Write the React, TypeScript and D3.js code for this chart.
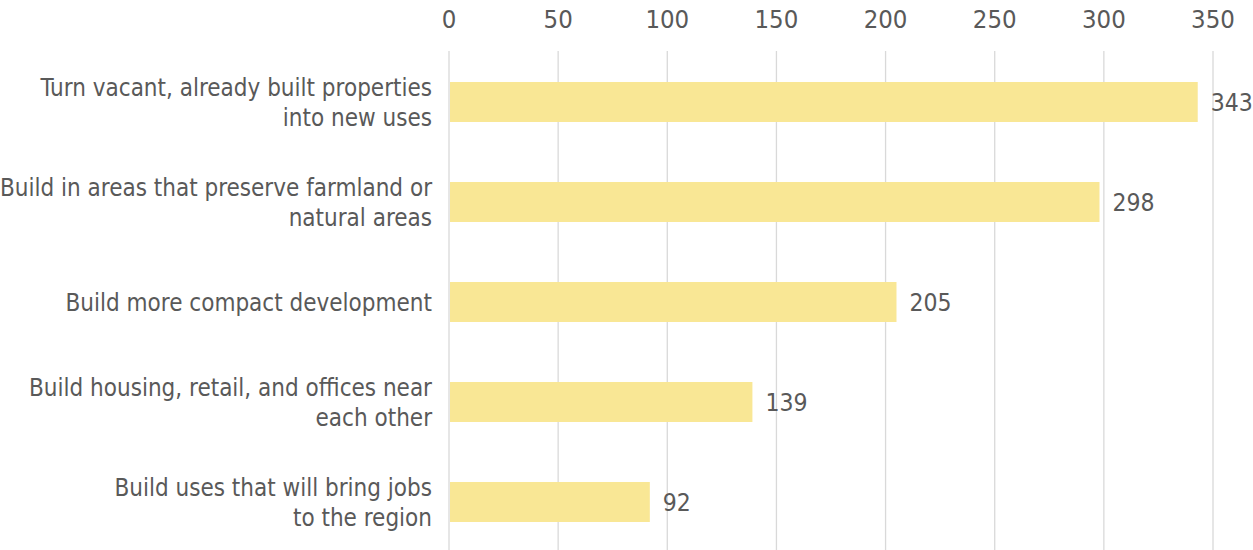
import React from "react";
import * as d3 from "d3";

const categories: string[][] = [
  ["Turn vacant, already built properties", "into new uses"],
  ["Build in areas that preserve farmland or", "natural areas"],
  ["Build more compact development"],
  ["Build housing, retail, and offices near", "each other"],
  ["Build uses that will bring jobs", "to the region"],
];
const values: number[] = [343, 298, 205, 139, 92];
const ticks: number[] = [0, 50, 100, 150, 200, 250, 300, 350];

const W = 1253;
const H = 550;
const FONT = "'DejaVu Sans Condensed', 'DejaVu Sans', sans-serif";
const TEXT = "#595959";

export default function App() {
  const x = d3.scaleLinear().domain([0, 350]).range([449, 1213]);
  const y = d3
    .scaleBand<number>()
    .domain(values.map((_, i) => i))
    .range([52, 552])
    .paddingInner(0.6)
    .paddingOuter(0.3);

  return (
    <svg
      width={W}
      height={H}
      style={{ position: "absolute", left: 0, top: 0, background: "#fff" }}
      fontFamily={FONT}
    >
      {ticks.map((t) => (
        <g key={t}>
          <line x1={x(t)} x2={x(t)} y1={51} y2={H} stroke="#d9d9d9" strokeWidth={1.3} />
          <text x={x(t)} y={28} textAnchor="middle" fontSize={25.5} fill={TEXT}>
            {t}
          </text>
        </g>
      ))}
      {values.map((v, i) => {
        const y0 = y(i)!;
        const bw = y.bandwidth();
        const cy = y0 + bw / 2;
        const lines = categories[i];
        const lh = 30;
        const start = cy - ((lines.length - 1) * lh) / 2;
        return (
          <g key={i}>
            <rect x={x(0) + 1} y={y0} width={x(v) - x(0) - 1} height={bw} fill="#F9E795" />
            <text x={x(v) + 13} y={cy + 9} fontSize={24.5} fill={TEXT}>
              {v}
            </text>
            {lines.map((l, j) => (
              <text key={j} x={432} y={start + j * lh + 8.5} textAnchor="end" fontSize={24} fill={TEXT}>
                {l}
              </text>
            ))}
          </g>
        );
      })}
    </svg>
  );
}
